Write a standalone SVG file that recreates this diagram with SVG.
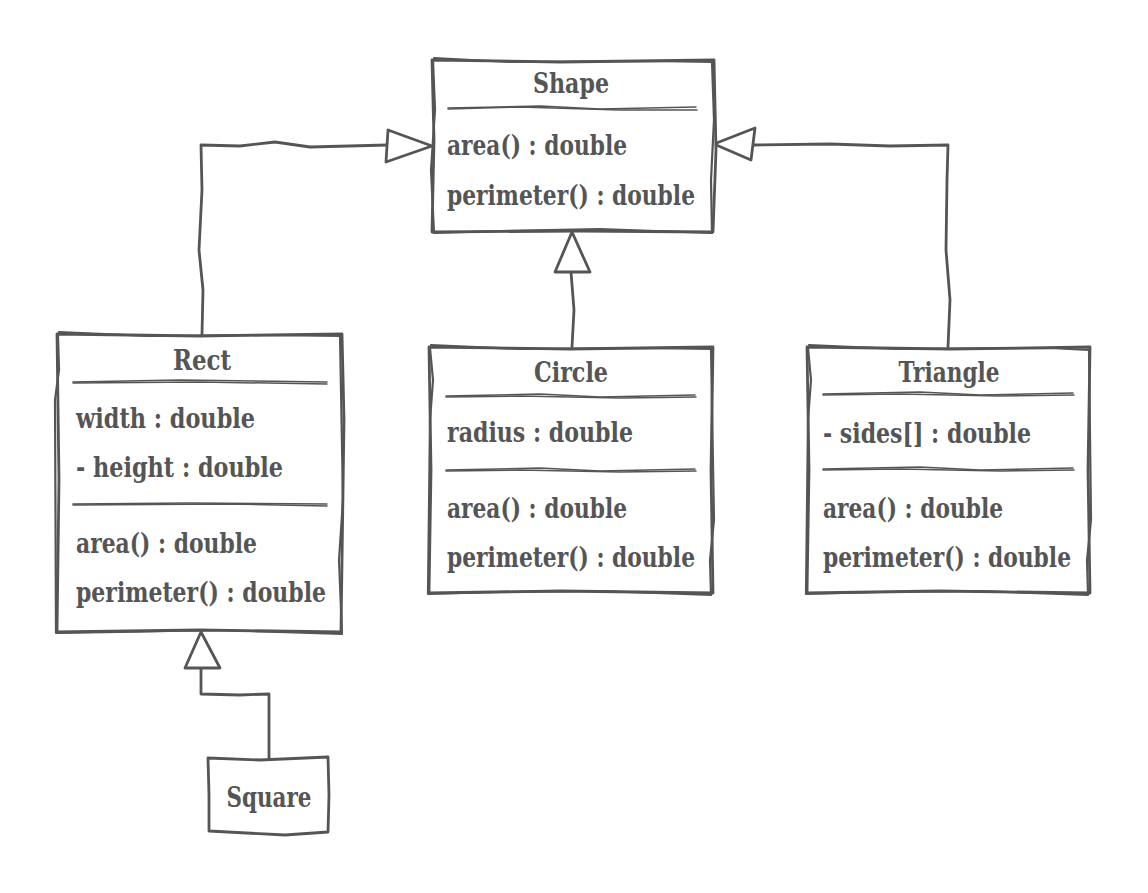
<svg xmlns="http://www.w3.org/2000/svg" width="1148" height="893" viewBox="0 0 1148 893">
<style>
.box{fill:#fff;stroke:#555;stroke-width:2.8;stroke-linejoin:round;stroke-linecap:round}
.sk{fill:none;stroke:#555;stroke-width:2.2;stroke-linejoin:round;stroke-linecap:round}
.dv{fill:none;stroke:#555;stroke-width:1.5;stroke-linecap:round}
.ln{fill:none;stroke:#555;stroke-width:2.8;stroke-linejoin:round;stroke-linecap:round}
.ah{fill:#fff;stroke:#555;stroke-width:2.8;stroke-linejoin:round}
.t{font-family:"DejaVu Serif","Liberation Serif",serif;font-weight:bold;font-size:28.5px;fill:#555}
.c{text-anchor:middle}
</style>
<rect width="1148" height="893" fill="#fff"/>
<g id="connectors">
<path class="ln" d="M202,334 L203,290 L199,250 L202,190 L201,145 L240,146 L275,142 L310,147 L388,145"/>
<polygon class="ah" points="388,130 432,146 386,162"/>
<path class="ln" d="M948,347 L950,300 L946,250 L947,180 L948,145 L890,146 L830,144 L753,145"/>
<polygon class="ah" points="755,128 714,144 751,160"/>
<path class="ln" d="M572,347 L574,310 L571,272"/>
<polygon class="ah" points="555,272 572,232 590,272"/>
<path class="ln" d="M269,758 L269,694 L240,695 L201,694 L201,668"/>
<polygon class="ah" points="185,668 201,632 220,668"/>
</g>
<g id="Shape">
<path class="box" d="M432,60 L560,62 L714,60 L716,150 L713,232 L580,231 L432,232 L434,140 Z"/>
<path class="sk" d="M434,58 L510,62 L650,61 L712,62 L714,120 L711,180 L712,233 L600,229 L500,231 L434,233 L431,170 L435,110 L433,60"/>
<path class="dv" d="M448,108 L540,106 L600,109 L696,107"/>
<path class="dv" d="M448,109 L520,107 L620,110 L697,110"/>
<text class="t c" x="571" y="93" textLength="76" lengthAdjust="spacingAndGlyphs">Shape</text>
<text class="t" x="447" y="155" textLength="180" lengthAdjust="spacingAndGlyphs">area() : double</text>
<text class="t" x="447" y="205" textLength="248" lengthAdjust="spacingAndGlyphs">perimeter() : double</text>
</g>
<g id="Rect">
<path class="box" d="M57,334 L200,336 L342,334 L344,420 L341,632 L200,630 L57,632 L59,480 Z"/>
<path class="sk" d="M59,332 L150,336 L260,335 L340,336 L343,500 L339,560 L342,634 L220,630 L120,632 L56,633 L55,400 L59,370 L58,336"/>
<path class="dv" d="M73,382 L180,380 L327,382"/>
<path class="dv" d="M73,383 L200,382 L327,384"/>
<path class="dv" d="M73,504 L190,503 L327,504"/>
<path class="dv" d="M73,505 L230,504 L327,506"/>
<text class="t c" x="202" y="370" textLength="58" lengthAdjust="spacingAndGlyphs">Rect</text>
<text class="t" x="76" y="428" textLength="179" lengthAdjust="spacingAndGlyphs">width : double</text>
<text class="t" x="76" y="477" textLength="207" lengthAdjust="spacingAndGlyphs">- height : double</text>
<text class="t" x="76" y="553" textLength="181" lengthAdjust="spacingAndGlyphs">area() : double</text>
<text class="t" x="76" y="602" textLength="250" lengthAdjust="spacingAndGlyphs">perimeter() : double</text>
</g>
<g id="Circle">
<path class="box" d="M429,347 L570,349 L713,347 L711,470 L713,593 L560,591 L429,593 L431,470 Z"/>
<path class="sk" d="M431,345 L520,349 L640,348 L711,349 L714,520 L710,560 L711,595 L600,591 L500,592 L428,594 L430,420 L433,380 L430,348"/>
<path class="dv" d="M446,396 L540,394 L600,397 L695,395"/>
<path class="dv" d="M446,397 L520,396 L620,398 L696,397"/>
<path class="dv" d="M446,470 L540,468 L600,471 L695,469"/>
<path class="dv" d="M446,471 L520,470 L620,472 L696,471"/>
<text class="t c" x="571" y="382" textLength="74" lengthAdjust="spacingAndGlyphs">Circle</text>
<text class="t" x="447" y="442" textLength="186" lengthAdjust="spacingAndGlyphs">radius : double</text>
<text class="t" x="447" y="518" textLength="180" lengthAdjust="spacingAndGlyphs">area() : double</text>
<text class="t" x="447" y="567" textLength="248" lengthAdjust="spacingAndGlyphs">perimeter() : double</text>
</g>
<g id="Triangle">
<path class="box" d="M807,347 L950,349 L1090,347 L1088,470 L1090,593 L940,591 L807,593 L809,470 Z"/>
<path class="sk" d="M809,345 L900,349 L1050,348 L1089,350 L1091,520 L1087,560 L1088,595 L980,591 L880,592 L806,594 L808,420 L811,380 L808,348"/>
<path class="dv" d="M823,394 L920,392 L980,395 L1073,393"/>
<path class="dv" d="M823,395 L900,394 L1000,396 L1074,395"/>
<path class="dv" d="M823,469 L920,467 L980,470 L1073,468"/>
<path class="dv" d="M823,470 L900,469 L1000,471 L1074,470"/>
<text class="t c" x="949" y="382" textLength="101" lengthAdjust="spacingAndGlyphs">Triangle</text>
<text class="t" x="823" y="443" textLength="208" lengthAdjust="spacingAndGlyphs">- sides[] : double</text>
<text class="t" x="823" y="518" textLength="180" lengthAdjust="spacingAndGlyphs">area() : double</text>
<text class="t" x="823" y="567" textLength="248" lengthAdjust="spacingAndGlyphs">perimeter() : double</text>
</g>
<g id="Square">
<path class="box" d="M208,758 L260,760 L328,757 L329,795 L328,832 L285,835 L209,831 L209,795 Z"/>
<text class="t c" x="269" y="807" textLength="85" lengthAdjust="spacingAndGlyphs">Square</text>
</g>
</svg>
